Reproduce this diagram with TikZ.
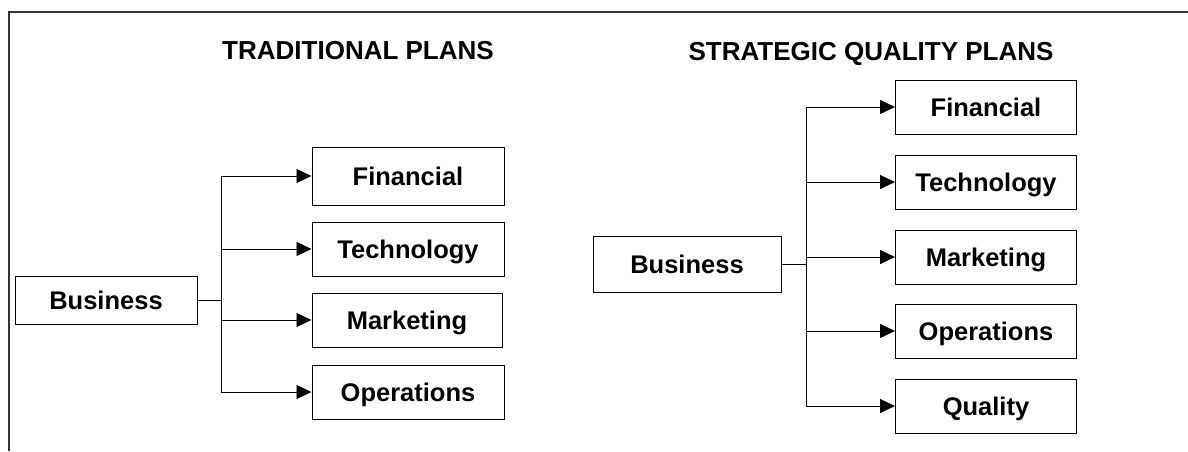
\documentclass[tikz,border=0pt]{standalone}
\usepackage{fontspec}
\setmainfont{Liberation Sans}
\usetikzlibrary{arrows.meta}

\tikzset{
  plan/.style={draw, line width=1pt, minimum width=192pt, minimum height=54pt,
    inner sep=0pt, text height=18.5pt, text depth=0pt,
    font=\fontsize{25.5}{30}\selectfont\bfseries},
  heading/.style={inner sep=0pt, text height=19pt, text depth=0pt,
    font=\fontsize{26}{30}\selectfont\bfseries},
  feed/.style={-{Triangle[length=15pt,width=14pt]}, line width=0.8pt},
}

\begin{document}
\begin{tikzpicture}[x=1pt, y=-1pt]
\useasboundingbox (0,0) rectangle (1188,451);
\draw[line width=1.2pt, black!80] (9,451) -- (9,12) -- (1188,12);

% traditional plans
\node[heading] (ltitle) at (358,50) {TRADITIONAL PLANS};
\node[plan, minimum width=182pt, minimum height=48pt] (lbiz) at (106,300) {Business};
\node[plan, minimum height=58pt] (lfin) at (408,176) {Financial};
\node[plan] (ltech) at (408,249) {Technology};
\node[plan, minimum width=190pt] (lmkt) at (407,320) {Marketing};
\node[plan] (lops) at (408,392) {Operations};
\coordinate (lsplit) at (221,300);

\draw[line width=0.8pt] (lbiz) -- (lsplit);
\draw[feed] (lsplit) |- (lfin);
\draw[feed] (lsplit) |- (ltech);
\draw[feed] (lsplit) |- (lmkt);
\draw[feed] (lsplit) |- (lops);

% strategic quality plans
\node[heading] (rtitle) at (871,51) {STRATEGIC QUALITY PLANS};
\node[plan, minimum width=188pt, minimum height=56pt] (rbiz) at (687,264) {Business};
\node[plan, minimum width=181pt] (rfin) at (986,107) {Financial};
\node[plan, minimum width=181pt] (rtech) at (986,182) {Technology};
\node[plan, minimum width=181pt] (rmkt) at (986,257) {Marketing};
\node[plan, minimum width=181pt] (rops) at (986,331) {Operations};
\node[plan, minimum width=181pt] (rqual) at (986,406) {Quality};
\coordinate (rsplit) at (806,264);

\draw[line width=0.8pt] (rbiz) -- (rsplit);
\foreach \n in {rfin,rtech,rmkt,rops,rqual}
  \draw[feed] (rsplit) |- (\n);
\end{tikzpicture}
\end{document}
